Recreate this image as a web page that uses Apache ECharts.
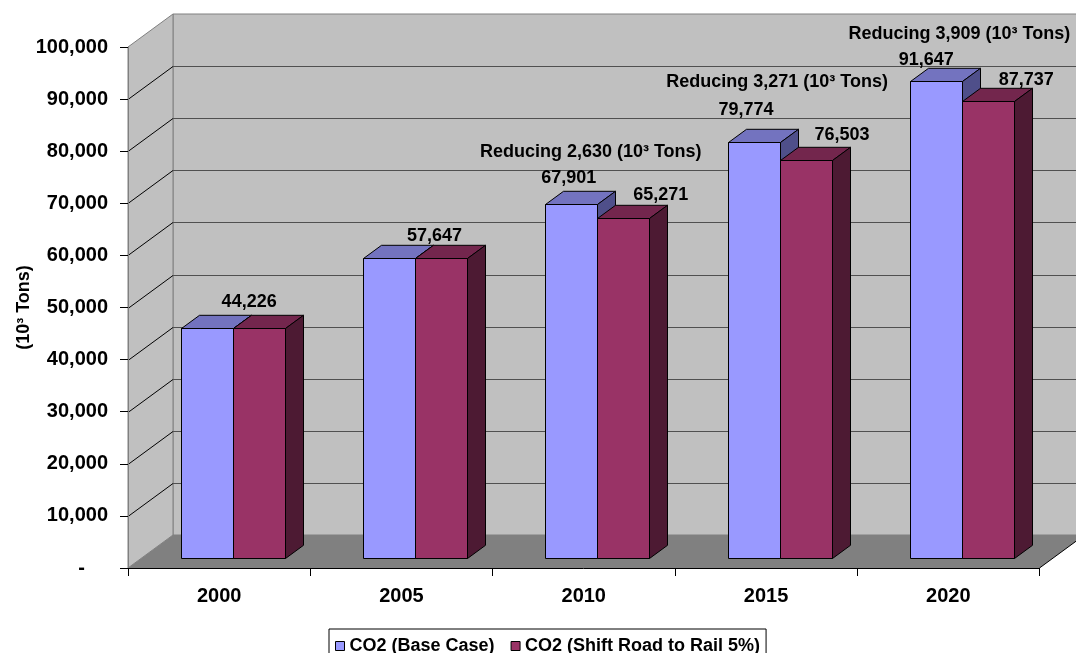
<!DOCTYPE html>
<html>
<head>
<meta charset="utf-8">
<script src="https://cdn.jsdelivr.net/npm/echarts@6/dist/echarts.min.js"></script>
<style>
  html, body { margin: 0; padding: 0; background: #fff; }
  #chart { width: 1076px; height: 653px; }
</style>
</head>
<body>
<div id="chart"></div>
<script>
// ---- data ----
const years = ['2000', '2005', '2010', '2015', '2020'];
const baseCase = [44226, 57647, 67901, 79774, 91647];
const shiftRail = [44226, 57647, 65271, 76503, 87737];
const reduction = [0, 0, 2630, 3271, 3909];
const seriesNames = ['CO2 (Base Case)', 'CO2 (Shift Road to Rail 5%)'];
const axisTitle = '(10³ Tons)';
const yMax = 100000;
const yStep = 10000;

// ---- 3-D look ----
const DEPTH_X = 45, DEPTH_Y = -33;      // offset from front plane to back wall
const BAR_FRONT = 0.3, BAR_BACK = 0.7;  // slab of the depth a column occupies
const BAR_SHARE = 0.285;                // column width as share of a category band
const FONT = '"Liberation Sans", Arial, Helvetica, sans-serif';

const palette = [
  { front: '#9999FF', top: '#7373BF', side: '#4F4F8A' },
  { front: '#993366', top: '#73264D', side: '#4D1A33' }
];

// label placement: [dx from category centre, lift above the column's back top edge]
const baseLabelNudge = [[30, 12], [33, 9], [-15, 13], [-20, 19], [-22, 7]];
const railLabelNudge = [null, null, [77, 10], [76, 11], [78, 8]];
const noteNudge = [null, null, [7, 26], [11, 28], [11, 26]];

const fmt = v => v.toLocaleString('en-US');

function poly(points, fill, stroke) {
  return {
    type: 'polygon',
    shape: { points: points },
    style: { fill: fill, stroke: stroke || null, lineWidth: 1 }
  };
}
function seg(x1, y1, x2, y2, color) {
  return {
    type: 'line',
    shape: { x1: x1, y1: y1, x2: x2, y2: y2 },
    style: { stroke: color, lineWidth: 1 }
  };
}

// walls, floor and gridlines of the 3-D plot box
function renderWalls(params, api) {
  const cs = params.coordSys;
  const L = cs.x, R = cs.x + cs.width, T = cs.y, B = cs.y + cs.height;
  const kids = [];
  kids.push(poly([[L + DEPTH_X, T + DEPTH_Y], [R + DEPTH_X, T + DEPTH_Y], [R + DEPTH_X, B + DEPTH_Y], [L + DEPTH_X, B + DEPTH_Y]], '#C0C0C0', '#808080'));
  kids.push(poly([[L, T], [L + DEPTH_X, T + DEPTH_Y], [L + DEPTH_X, B + DEPTH_Y], [L, B]], '#C0C0C0', '#808080'));
  kids.push(poly([[L, B], [R, B], [R + DEPTH_X, B + DEPTH_Y], [L + DEPTH_X, B + DEPTH_Y]], '#808080', null));
  kids.push(seg(R, B, R + DEPTH_X, B + DEPTH_Y, '#000'));
  for (let v = yStep; v < yMax; v += yStep) {
    const y = Math.round(api.coord([0, v])[1]) + 0.5;
    kids.push(seg(L, y, L + DEPTH_X, y + DEPTH_Y, '#000'));
    kids.push(seg(L + DEPTH_X, y + DEPTH_Y, R + DEPTH_X, y + DEPTH_Y, '#505050'));
  }
  return { type: 'group', children: kids };
}

// one 3-D column: front, top and right side faces
function makeColumn(k) {
  return function (params, api) {
    const i = api.value(0);
    const v = api.value(1);
    const top = api.coord([i, v]);
    const bottom = api.coord([i, 0]);
    const band = api.size([1, 0])[0];
    const w = band * BAR_SHARE;
    const dx0 = DEPTH_X * BAR_FRONT, dy0 = DEPTH_Y * BAR_FRONT;
    const ddx = DEPTH_X * (BAR_BACK - BAR_FRONT), ddy = DEPTH_Y * (BAR_BACK - BAR_FRONT);
    const x0 = Math.round(top[0] - w + k * w + dx0) + 0.5;
    const x1 = Math.round(top[0] + k * w + dx0) + 0.5;
    const yt = Math.round(top[1] + dy0) + 0.5;
    const yb = Math.round(bottom[1] + dy0) + 0.5;
    const c = palette[k];
    return {
      type: 'group',
      children: [
        poly([[x0, yt], [x1, yt], [x1, yb], [x0, yb]], c.front, '#000'),
        poly([[x0, yt], [x1, yt], [x1 + ddx, yt + ddy], [x0 + ddx, yt + ddy]], c.top, '#000'),
        poly([[x1, yt], [x1 + ddx, yt + ddy], [x1 + ddx, yb + ddy], [x1, yb]], c.side, '#000')
      ]
    };
  };
}

function txt(x, y, text, size) {
  return {
    type: 'text',
    x: x, y: y,
    style: {
      text: text, fill: '#000', fontSize: size, fontWeight: 'bold', fontFamily: FONT,
      align: 'center', verticalAlign: 'middle'
    }
  };
}

// value labels and the reduction notes
function renderLabels(params, api) {
  const i = api.value(0);
  const b = api.value(1), r = api.value(2), red = api.value(3);
  const backLift = DEPTH_Y * BAR_BACK;
  const cx = api.coord([i, 0])[0];
  const kids = [];
  const bTop = api.coord([i, b])[1] + backLift;
  const bn = baseLabelNudge[i];
  const by = bTop - bn[1];
  kids.push(txt(cx + bn[0], by, fmt(b), 18));
  if (r !== b) {
    const rTop = api.coord([i, r])[1] + backLift;
    const rn = railLabelNudge[i];
    kids.push(txt(cx + rn[0], rTop - rn[1], fmt(r), 18));
  }
  if (red > 0) {
    const nn = noteNudge[i];
    kids.push(txt(cx + nn[0], by - nn[1], 'Reducing ' + fmt(red) + ' (10³ Tons)', 18));
  }
  return { type: 'group', children: kids };
}

const chart = echarts.init(document.getElementById('chart'), null, { renderer: 'canvas' });

chart.setOption({
  animation: false,
  backgroundColor: '#fff',
  textStyle: { fontFamily: FONT },
  grid: { left: 128, right: 36.5, top: 47, bottom: 85, containLabel: false, outerBoundsMode: 'none' },
  legend: {
    data: seriesNames,
    left: 329, top: 629,
    icon: 'rect', itemWidth: 9, itemHeight: 9, itemGap: 16,
    padding: [8, 6, 6, 6],
    borderColor: '#000', borderWidth: 1, backgroundColor: '#fff',
    itemStyle: { borderColor: '#000', borderWidth: 1 },
    textStyle: { fontSize: 18, fontWeight: 'bold', color: '#000', fontFamily: FONT },
    selectedMode: false
  },
  xAxis: {
    type: 'category',
    data: years,
    boundaryGap: true,
    z: 5,
    axisLine: { show: true, lineStyle: { color: '#000', width: 1 } },
    axisTick: { show: true, length: 8, lineStyle: { color: '#000' } },
    splitLine: { show: false },
    axisLabel: { fontSize: 20, fontWeight: 'bold', color: '#000', fontFamily: FONT, margin: 18 }
  },
  yAxis: {
    type: 'value',
    min: 0, max: yMax, interval: yStep,
    z: 5,
    axisLine: { show: true, lineStyle: { color: '#808080', width: 1 } },
    axisTick: { show: true, length: 8, lineStyle: { color: '#000' } },
    splitLine: { show: false },
    axisLabel: {
      fontSize: 20, fontWeight: 'bold', color: '#000', fontFamily: FONT, margin: 20,
      formatter: v => (v === 0 ? '{dash|-}' : fmt(v)),
      rich: { dash: { fontSize: 20, fontWeight: 'bold', fontFamily: FONT, color: '#000', padding: [0, 23, 0, 0] } }
    },
    name: axisTitle,
    nameLocation: 'middle',
    nameRotate: 90,
    nameGap: 95,
    nameMoveOverlap: false,
    nameTextStyle: { fontSize: 18, fontWeight: 'bold', color: '#000', fontFamily: FONT }
  },
  series: [
    {
      name: 'walls',
      type: 'custom',
      z: -1,
      clip: false,
      silent: true,
      renderItem: renderWalls,
      data: [[0, 0]]
    },
    {
      name: seriesNames[0],
      type: 'custom',
      z: 2,
      clip: false,
      itemStyle: { color: palette[0].front },
      renderItem: makeColumn(0),
      data: baseCase.map((v, i) => [i, v])
    },
    {
      name: seriesNames[1],
      type: 'custom',
      z: 2,
      clip: false,
      itemStyle: { color: palette[1].front },
      renderItem: makeColumn(1),
      data: shiftRail.map((v, i) => [i, v])
    },
    {
      name: 'labels',
      type: 'custom',
      z: 4,
      clip: false,
      silent: true,
      renderItem: renderLabels,
      data: years.map((y, i) => [i, baseCase[i], shiftRail[i], reduction[i]])
    }
  ]
});
</script>
</body>
</html>
